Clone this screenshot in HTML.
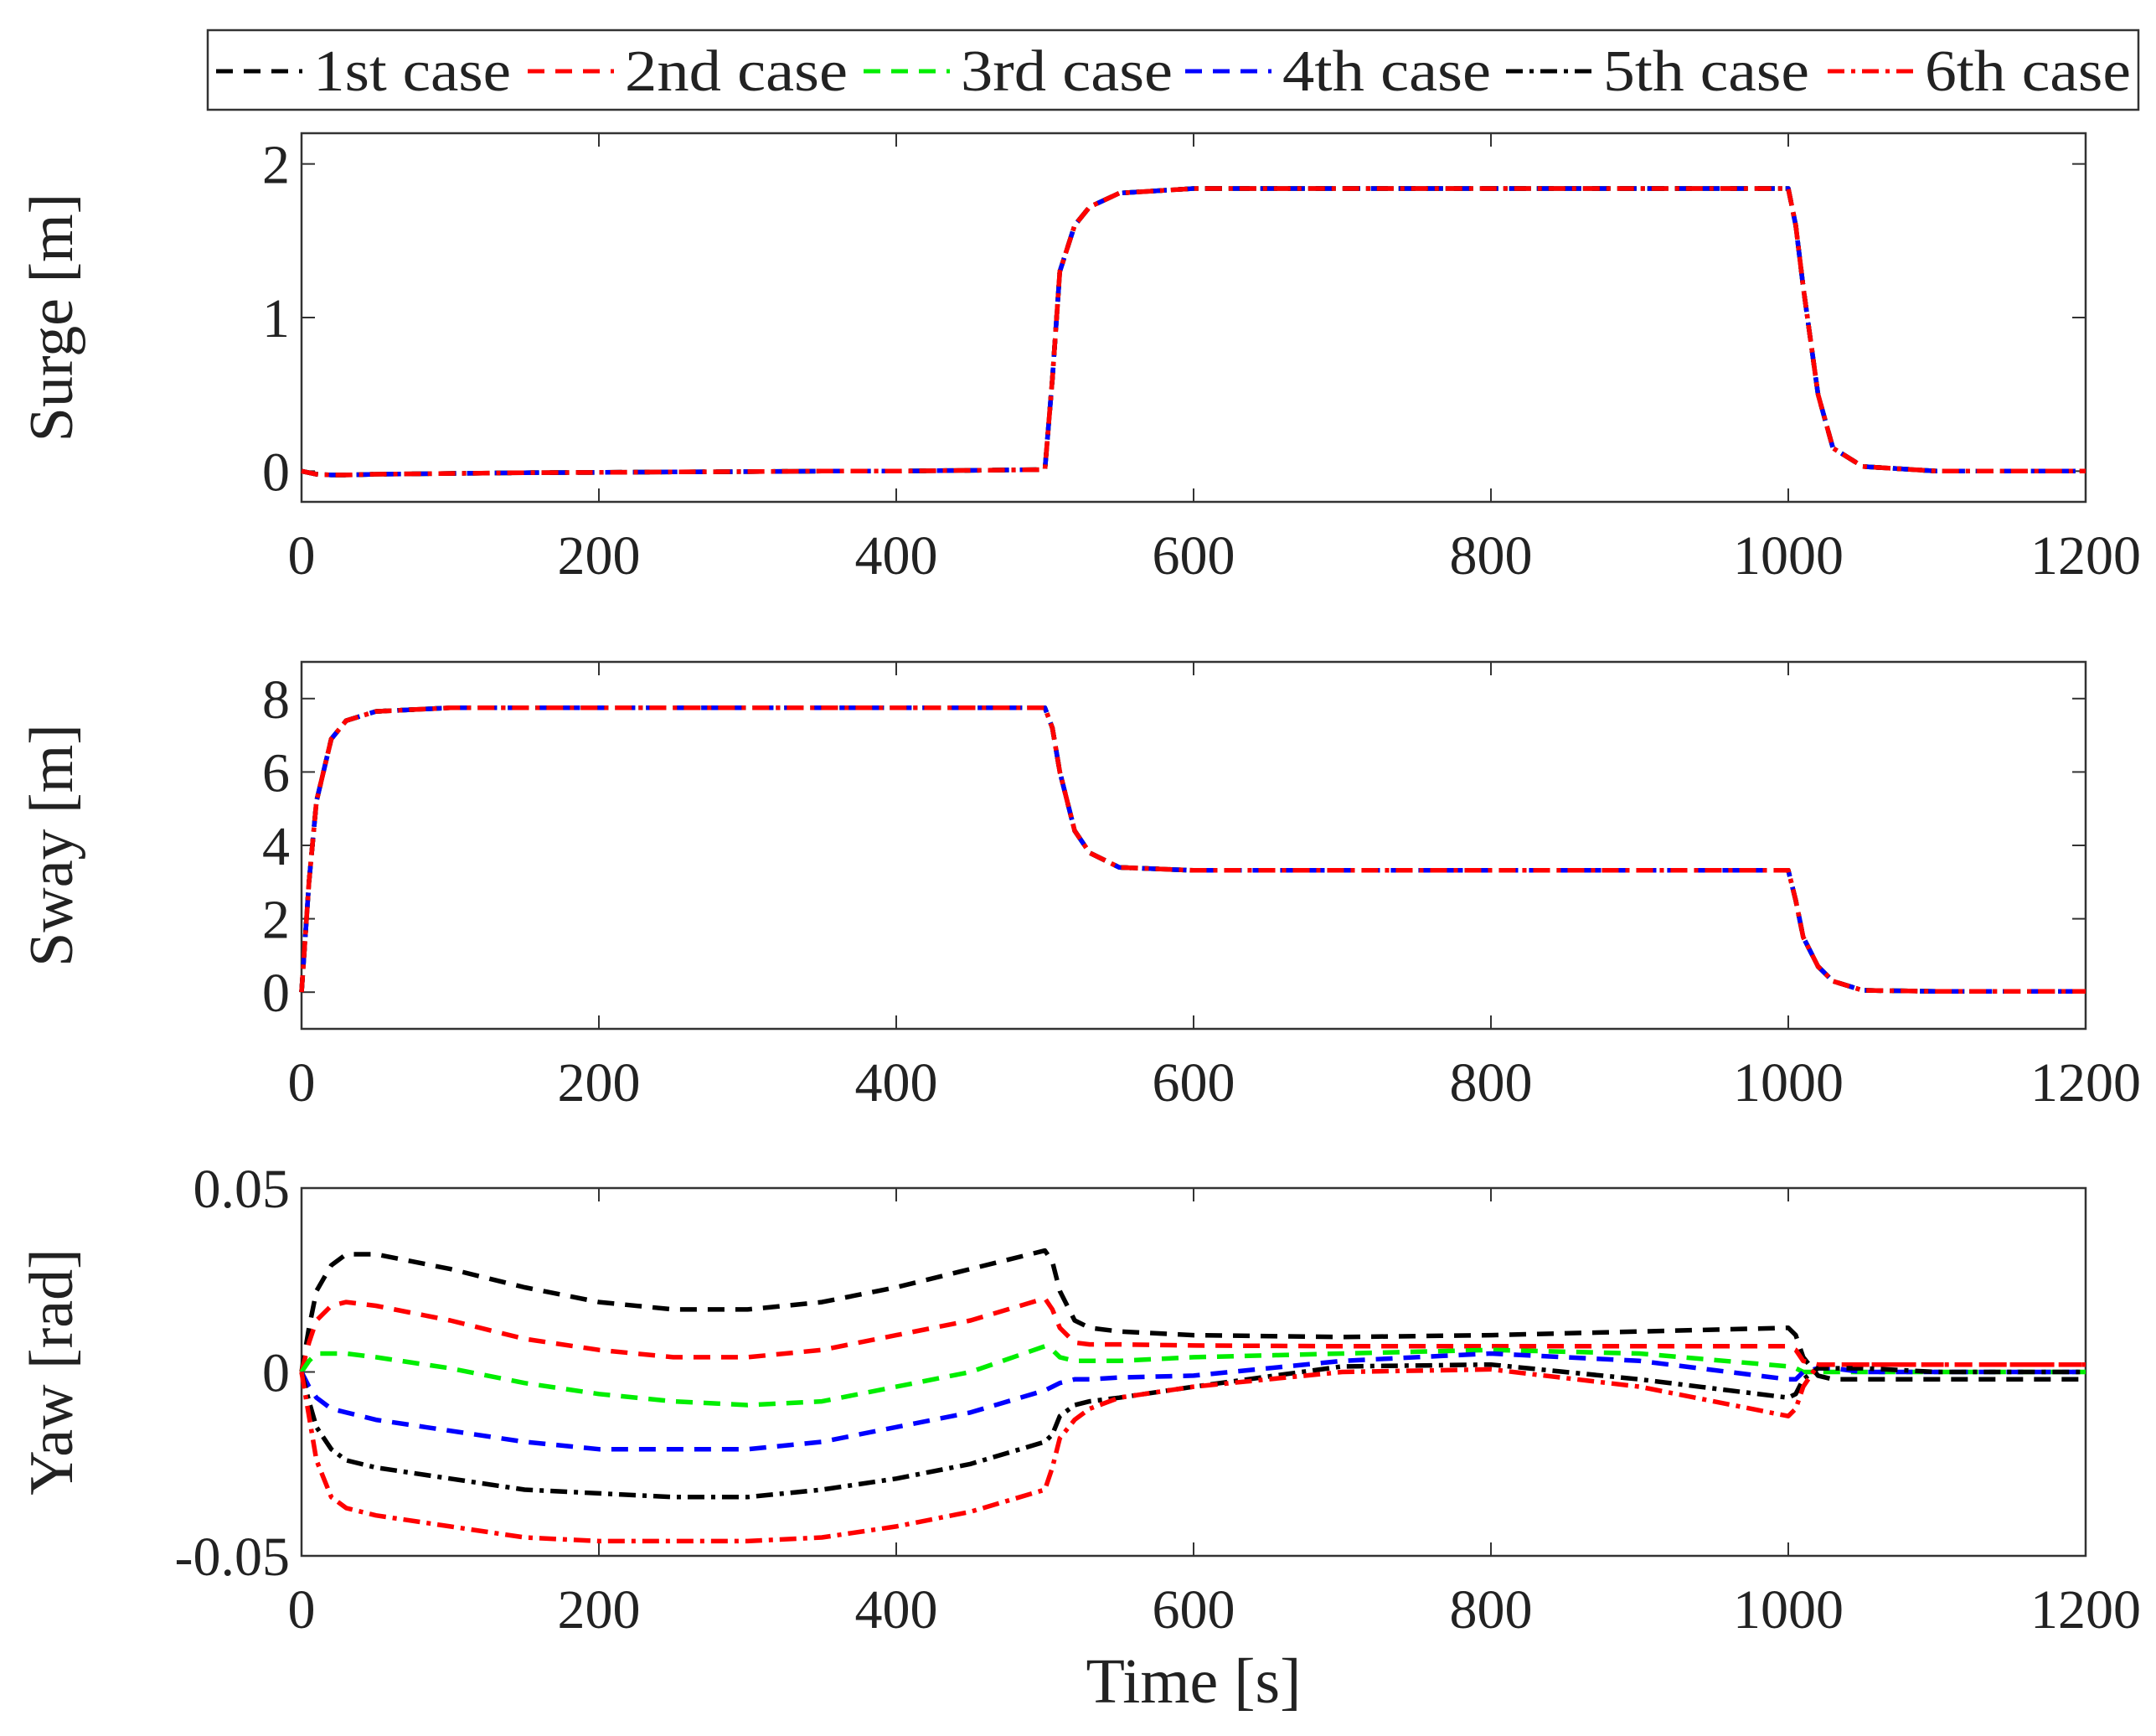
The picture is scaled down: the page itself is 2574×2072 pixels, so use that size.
<!DOCTYPE html>
<html><head><meta charset="utf-8"><style>
body{margin:0;background:#fff}
svg{display:block;font-family:"Liberation Serif",serif}
</style></head><body>
<svg id="chart" width="2574" height="2072" viewBox="0 0 2574 2072"></svg>
<script>
const times=[0,5,10,20,30,50,100,150,200,250,300,350,400,450,500,505,510,520,530,550,600,700,800,900,1000,1005,1010,1020,1030,1050,1100,1200];
const surge=[0,-0.01,-0.02,-0.025,-0.025,-0.02,-0.015,-0.01,-0.008,-0.005,-0.003,0,0,0.005,0.01,0.6,1.3,1.6,1.72,1.81,1.84,1.84,1.84,1.84,1.84,1.6,1.2,0.5,0.15,0.03,0,0];
const sway=[0,3,5.2,6.9,7.4,7.65,7.75,7.75,7.75,7.75,7.75,7.75,7.75,7.75,7.75,7.2,6,4.4,3.8,3.4,3.32,3.32,3.32,3.32,3.32,2.5,1.5,0.7,0.3,0.05,0.02,0.02];
const yaw1=[0,0.012,0.022,0.029,0.032,0.032,0.028,0.023,0.019,0.017,0.017,0.019,0.023,0.028,0.033,0.03,0.022,0.014,0.012,0.011,0.010,0.0095,0.010,0.011,0.012,0.01,0.004,-0.001,-0.002,-0.002,-0.002,-0.002];
const yaw2=[0,0.008,0.014,0.018,0.019,0.018,0.014,0.009,0.006,0.004,0.004,0.006,0.01,0.014,0.02,0.017,0.012,0.008,0.0075,0.0075,0.0072,0.007,0.007,0.007,0.007,0.006,0.003,0.002,0.002,0.002,0.002,0.002];
const yaw3=[0,0.003,0.005,0.005,0.005,0.004,0.001,-0.003,-0.006,-0.008,-0.009,-0.008,-0.004,0,0.007,0.006,0.004,0.003,0.003,0.003,0.004,0.005,0.006,0.005,0.0015,0.001,0,0,0,0,0,0];
const yaw4=[0,-0.004,-0.007,-0.01,-0.011,-0.013,-0.016,-0.019,-0.021,-0.021,-0.021,-0.019,-0.015,-0.011,-0.005,-0.004,-0.003,-0.002,-0.002,-0.0015,-0.001,0.003,0.005,0.003,-0.002,-0.002,0,0.001,0.001,0,0,0];
const yaw5=[0,-0.008,-0.015,-0.021,-0.024,-0.026,-0.029,-0.032,-0.033,-0.034,-0.034,-0.032,-0.029,-0.025,-0.019,-0.017,-0.012,-0.009,-0.008,-0.007,-0.004,0.0015,0.002,-0.002,-0.007,-0.006,-0.002,0.001,0.001,0.001,0,0];
const yaw6=[0,-0.012,-0.024,-0.034,-0.037,-0.039,-0.042,-0.045,-0.046,-0.046,-0.046,-0.045,-0.042,-0.038,-0.032,-0.026,-0.018,-0.013,-0.01,-0.007,-0.004,0,0.0007,-0.004,-0.012,-0.01,-0.004,0.002,0.002,0.002,0.002,0.002];
const xTicks=[0,200,400,600,800,1000,1200];
const surgeTicks=[0,1,2], swayTicks=[0,2,4,6,8], yawTicks=[-0.05,0,0.05];
const legendLabels=["1st case","2nd case","3rd case","4th case","5th case","6th case"];

const NS="http://www.w3.org/2000/svg";
const svg=document.getElementById('chart');
function mk(tag,attrs,parent){const e=document.createElementNS(NS,tag);for(const k in attrs)e.setAttribute(k,attrs[k]);(parent||svg).appendChild(e);return e;}
const styles=[
 {c:"#000",d:"20 13"},{c:"#ff0000",d:"20 13"},{c:"#00ee00",d:"20 13"},{c:"#0000ff",d:"20 13"},
 {c:"#000",d:"20 8 5 8"},{c:"#ff0000",d:"20 8 5 8"}];
const X0=360,X1=2490;
function xs(t){return X0+(t/1200)*(X1-X0);}
function panel(name,top,bot,ymin,ymax,ticks,fmt,label,series){
  const g=mk('g',{},svg);
  
  
  const ys=v=>bot-(v-ymin)/(ymax-ymin)*(bot-top);
  const frame=mk('rect',{x:X0,y:top,width:X1-X0,height:bot-top,fill:'none',stroke:'#333',"stroke-width":2.5},g);
  
  
  xTicks.forEach(t=>{
    mk('line',{x1:xs(t),x2:xs(t),y1:bot,y2:bot-16,stroke:'#333','stroke-width':2},g);
    mk('line',{x1:xs(t),x2:xs(t),y1:top,y2:top+16,stroke:'#333','stroke-width':2},g);
    const tx=mk('text',{x:xs(t),y:bot+86,'font-size':66,'text-anchor':'middle',fill:'#222'},g);
    tx.textContent=t;
    
    
  });
  ticks.forEach(v=>{
    mk('line',{x1:X0,x2:X0+16,y1:ys(v),y2:ys(v),stroke:'#333','stroke-width':2},g);
    mk('line',{x1:X1,x2:X1-16,y1:ys(v),y2:ys(v),stroke:'#333','stroke-width':2},g);
    const tx=mk('text',{x:X0-14,y:ys(v)+23,'font-size':66,'text-anchor':'end',fill:'#222'},g);
    tx.textContent=fmt(v);
    
    
  });
  const cy=(top+bot)/2;
  const yl=mk('text',{x:0,y:0,'font-size':74,'text-anchor':'middle',fill:'#222',transform:`translate(86,${cy}) rotate(-90)`},g);
  yl.textContent=label;
  
  
  series.forEach((vals,i)=>{
    const pts=times.map((t,j)=>xs(t).toFixed(1)+','+ys(vals[j]).toFixed(1)).join(' ');
    const pl=mk('polyline',{points:pts,fill:'none',stroke:styles[i].c,'stroke-width':5.5,'stroke-dasharray':styles[i].d,'stroke-linejoin':'round'},g);
    
    
  });
}
panel('surge',159,599,-0.2,2.2,surgeTicks,v=>String(v),'Surge [m]',[surge,surge,surge,surge,surge,surge]);
panel('sway',790,1228,-1,9,swayTicks,v=>String(v),'Sway [m]',[sway,sway,sway,sway,sway,sway]);
panel('yaw',1418,1857,-0.05,0.05,yawTicks,v=>v===0?'0':v.toFixed(2),'Yaw [rad]',[yaw1,yaw2,yaw3,yaw4,yaw5,yaw6]);
const xt=mk('text',{x:(X0+X1)/2,y:2032,'font-size':76,'text-anchor':'middle',fill:'#222'});
xt.textContent='Time [s]';


// legend
const lg=mk('g',{});


mk('rect',{x:248,y:36,width:2305,height:95,fill:'#fff',stroke:'#333','stroke-width':2.5},lg);
const lx=[258,630,1031,1415,1798,2182];
const tl=[236,266,253,249,246,246];
legendLabels.forEach((lab,i)=>{
  const e=mk('g',{},lg);
  
  
  mk('line',{x1:lx[i],x2:lx[i]+103,y1:85,y2:85,stroke:styles[i].c,'stroke-width':5,'stroke-dasharray':styles[i].d},e);
  const t=mk('text',{x:lx[i]+116,y:108,'font-size':70,fill:'#222',textLength:tl[i],lengthAdjust:'spacingAndGlyphs'},e);
  t.textContent=lab;
});
</script>
</body></html>
